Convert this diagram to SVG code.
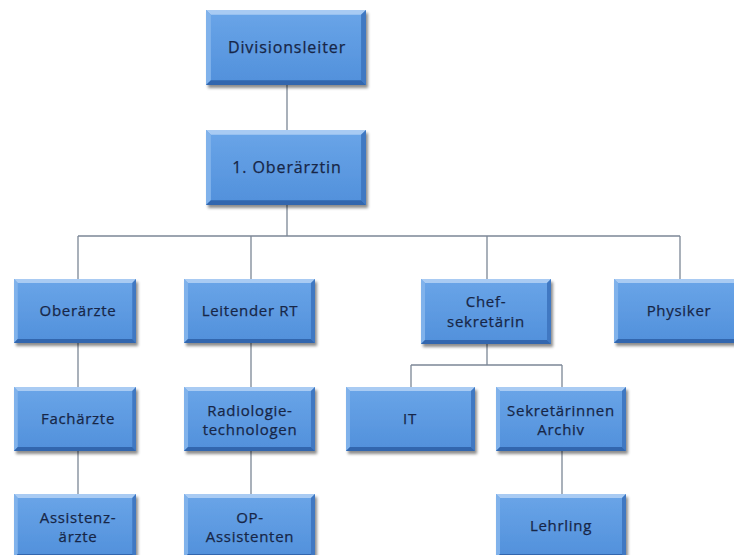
<svg xmlns="http://www.w3.org/2000/svg" xmlns:xlink="http://www.w3.org/1999/xlink" width="734" height="555" viewBox="0 0 734 555">
<style>
.t{font-family:"Open Sans","Liberation Sans",sans-serif;font-size:15px;fill:#172647;stroke:#172647;stroke-width:0.25px;text-anchor:middle;letter-spacing:0.7px}
.tb{font-size:16px;letter-spacing:0.9px}
.c{stroke:#7c8796;stroke-width:1.3;fill:none}
.b{filter:url(#sh)}
</style>
<defs>
<linearGradient id="face" x1="0" y1="0" x2="0" y2="1">
<stop offset="0" stop-color="#6aa5e8"/>
<stop offset="1" stop-color="#5190db"/>
</linearGradient>
<filter id="sh" x="-10%" y="-10%" width="125%" height="135%">
<feDropShadow dx="2" dy="3" stdDeviation="1.8" flood-color="#000" flood-opacity="0.45"/>
</filter>
<symbol id="box" viewBox="0 0 130 64" preserveAspectRatio="none">
<rect width="130" height="64" fill="url(#face)"/>
<polygon points="0,0 130,0 126,4 4,4" fill="#a9cbf3"/>
<polygon points="0,0 4,4 4,60 0,64" fill="#80b2eb"/>
<polygon points="130,0 130,64 126,60 126,4" fill="#3f78c2"/>
<polygon points="0,64 4,60 126,60 130,64" fill="#3066ae"/>
</symbol>
</defs>
<rect width="734" height="555" fill="#fff"/>
<g id="connectors">
<path class="c" d="M287 85V130M287 205V236M78 236H680M78 236V279M251 236V279M487 236V279M680 236V279"/>
<path class="c" d="M78 343V387M78 451V494M251 343V387M251 451V494"/>
<path class="c" d="M487 344V365M411 365H562M411 365V387M562 365V387M562 451V494"/>
</g>
<g id="n-divisionsleiter"><use class="b" href="#box" x="206" y="10" width="160" height="75"/><text class="t tb" x="287" y="53">Divisionsleiter</text></g>
<g id="n-oberaerztin"><use class="b" href="#box" x="206" y="130" width="160" height="75"/><text class="t tb" x="287" y="173">1. Oberärztin</text></g>
<g id="n-oberaerzte"><use class="b" href="#box" x="14" y="279" width="122" height="64"/><text class="t" x="78" y="316">Oberärzte</text></g>
<g id="n-leitender-rt"><use class="b" href="#box" x="184" y="279" width="131" height="64"/><text class="t" x="250" y="316">Leitender RT</text></g>
<g id="n-chefsekretaerin"><use class="b" href="#box" x="421" y="279" width="130" height="65"/><text class="t" x="486" y="307">Chef-</text><text class="t" x="486" y="327">sekretärin</text></g>
<g id="n-physiker"><use class="b" href="#box" x="614" y="279" width="132" height="64"/><text class="t" x="679" y="316">Physiker</text></g>
<g id="n-fachaerzte"><use class="b" href="#box" x="14" y="387" width="122" height="64"/><text class="t" x="78" y="424">Fachärzte</text></g>
<g id="n-radiologietechnologen"><use class="b" href="#box" x="184" y="387" width="131" height="64"/><text class="t" x="250" y="416">Radiologie-</text><text class="t" x="250" y="435">technologen</text></g>
<g id="n-it"><use class="b" href="#box" x="346" y="387" width="129" height="64"/><text class="t" x="410" y="424">IT</text></g>
<g id="n-sekretaerinnen"><use class="b" href="#box" x="496" y="387" width="130" height="64"/><text class="t" x="561" y="416">Sekretärinnen</text><text class="t" x="561" y="435">Archiv</text></g>
<g id="n-assistenzaerzte"><use class="b" href="#box" x="14" y="494" width="122" height="64"/><text class="t" x="78" y="523">Assistenz-</text><text class="t" x="78" y="542">ärzte</text></g>
<g id="n-op-assistenten"><use class="b" href="#box" x="184" y="494" width="131" height="64"/><text class="t" x="250" y="523">OP-</text><text class="t" x="250" y="542">Assistenten</text></g>
<g id="n-lehrling"><use class="b" href="#box" x="496" y="494" width="130" height="64"/><text class="t" x="561" y="531">Lehrling</text></g>
</svg>
